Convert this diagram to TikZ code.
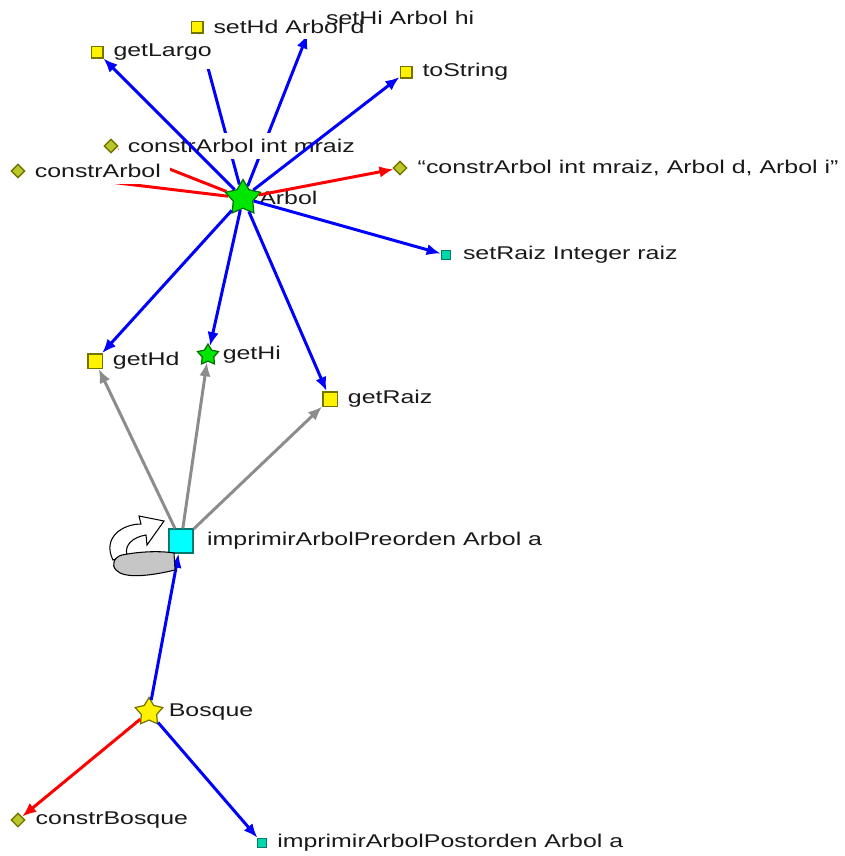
\documentclass[tikz,border=0pt]{standalone}
\usepackage{fontspec}
\setmainfont[FakeStretch=1.35]{Liberation Sans}
\usetikzlibrary{shapes.geometric,arrows.meta}

\pgfdeclarelayer{back}
\pgfsetlayers{back,main}

\definecolor{olivebd}{RGB}{115,115,0}
\definecolor{diafill}{RGB}{185,200,40}
\definecolor{tealbd}{RGB}{0,120,110}
\definecolor{tealfill}{RGB}{0,215,170}
\definecolor{cyanfill}{RGB}{0,255,255}
\definecolor{starbd}{RGB}{0,110,0}
\definecolor{stargreen}{RGB}{0,230,0}
\definecolor{linkgray}{RGB}{140,140,140}

\begin{document}
\begin{tikzpicture}[
  x=0.02cm, y=-0.02cm,
  lbl/.style={font=\fontsize{10.5}{12}\selectfont, text=black!90, inner sep=1pt},
  every label/.style={lbl},
  label distance=4.5pt,
  cover/.style={fill=white, inner xsep=5pt, inner ysep=3.5pt, label distance=0pt},
  meth/.style={rectangle, draw=olivebd, fill=yellow, line width=0.8pt,
    minimum size=6.6pt, inner sep=0pt},
  bigmeth/.style={meth, minimum size=8.2pt},
  ctor/.style={diamond, draw=olivebd, fill=diafill, line width=0.8pt,
    minimum size=8pt, inner sep=0pt},
  pkgmeth/.style={rectangle, draw=tealbd, fill=tealfill, line width=0.6pt,
    minimum size=5.4pt, inner sep=0pt},
  current/.style={rectangle, draw=tealbd, fill=cyanfill, line width=0.8pt,
    minimum size=13.6pt, inner sep=0pt},
  cls/.style={star, star points=5, star point ratio=1.8, draw=starbd,
    fill=stargreen, line width=0.7pt, inner sep=0pt},
  calls/.style={-{Latex[length=8pt,width=6.5pt]}, line width=1.7pt, blue},
  makes/.style={calls, red},
  uses/.style={calls, linkgray},
]
\useasboundingbox (0,0) rectangle (845,856);

% --- Arbol and its members ---
\node[meth] (setHi) at (310,28) {};
\node[meth, label={[fill=white, inner ysep=3pt]right:setHd Arbol d}] (setHd) at (197,27) {};
\node[lbl, anchor=west] (setHiTxt) at (324,18) {setHi Arbol hi};
\node[meth, label={[fill=white, inner ysep=5pt]right:getLargo}] (getLargo) at (97,52) {};
\node[meth, label=right:toString] (toString) at (406,72) {};
\node[ctor, label={[cover]right:constrArbol int mraiz}] (cAm) at (111,146) {};
\node[ctor, label={[cover]right:constrArbol}] (cA) at (18,171) {};
\node[ctor, label=right:{``constrArbol int mraiz, Arbol d, Arbol i''}] (cAi) at (400,168) {};
\node[cls, minimum size=21pt, label={[label distance=0.5pt]right:Arbol}] (Arbol) at (243,198) {};
\node[pkgmeth, label={[label distance=5.5pt]right:setRaiz Integer raiz}] (setRaiz) at (446,255) {};

\node[bigmeth, label=right:getHd] (getHd) at (95,361) {};
\node[cls, minimum size=12.5pt, label={[label distance=2.5pt]right:getHi}] (getHi) at (208,355) {};
\node[bigmeth, label=right:getRaiz] (getRaiz) at (330,399) {};

% --- Preorden ---
\node[current, label={[label distance=6.5pt]right:imprimirArbolPreorden Arbol a}] (pre) at (181,541) {};

% --- Bosque ---
\node[cls, fill=yellow, draw=olivebd, minimum size=16.5pt,
  label={[label distance=4pt]right:Bosque}] (Bosque) at (149,712) {};
\node[ctor, label=right:constrBosque] (cB) at (18,820) {};
\node[pkgmeth, label=right:imprimirArbolPostorden Arbol a] (post) at (262,843) {};

% links hidden behind the labels
\begin{pgfonlayer}{back}
  \draw[makes] (Arbol) -- (cA);
  \draw[makes] (Arbol) -- (cAm);
  \draw[calls] (Arbol) -- (setHd);
  \draw[calls] (Arbol) -- (setHi);
\end{pgfonlayer}

% links from Arbol
\foreach \m in {getLargo, toString, setRaiz, getHd, getHi, getRaiz}
  \draw[calls] (Arbol) -- (\m);
\draw[makes] (Arbol) -- (cAi);

% links from Preorden
\foreach \m in {getHd, getHi, getRaiz}
  \draw[uses] (pre) -- (\m);

% links from Bosque
\draw[calls] (Bosque) -- (pre);
\draw[makes] (Bosque) -- (cB);
\draw[calls] (Bosque) -- (post);

% recursion mark
\filldraw[fill=white, draw=black, line width=0.6pt]
  (113,560) .. controls (102,538) and (122,524) .. (141,524)
  -- (139,516) -- (164,521) -- (147,545) -- (146,535)
  .. controls (133,537) and (124,545) .. (127,555) -- cycle;
\filldraw[fill=gray!45, draw=black, line width=0.6pt]
  (122,555) .. controls (142,551) and (162,551) .. (174,553)
  -- (175,570) .. controls (150,576) and (124,579) .. (116,570)
  .. controls (111,565) and (114,557) .. (122,555) -- cycle;

\end{tikzpicture}
\end{document}
